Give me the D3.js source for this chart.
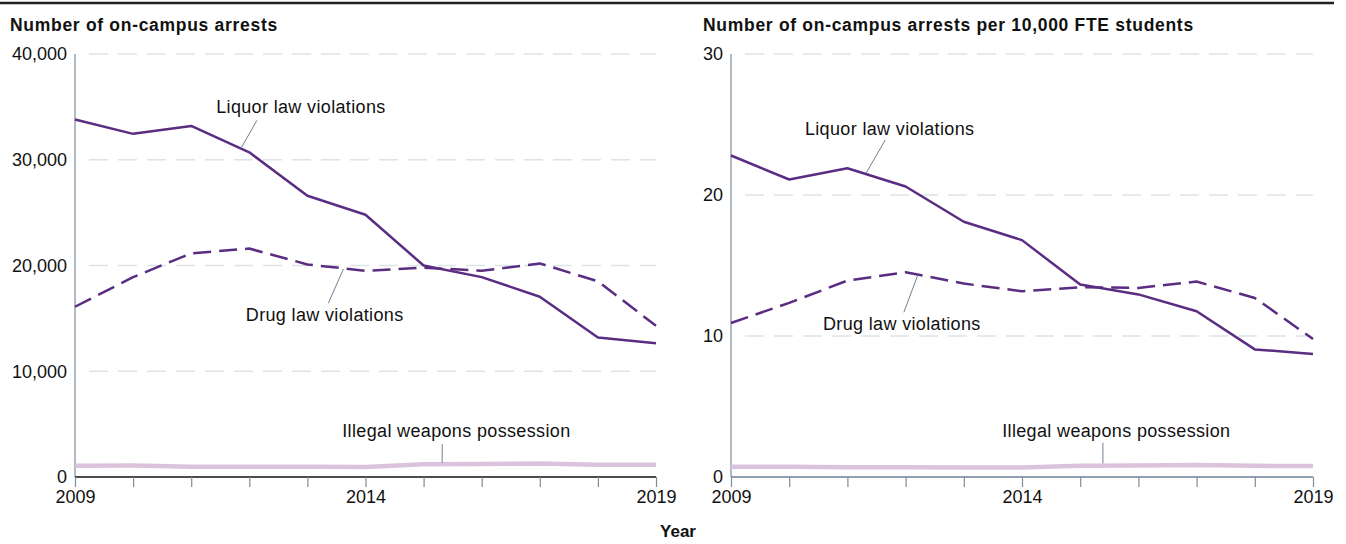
<!DOCTYPE html>
<meta charset="utf-8">
<style>
    body { margin: 0; background: #fff; }
    svg { display: block; font-family: "Liberation Sans", Arial, sans-serif; }
    .title { font-size: 17.5px; font-weight: bold; fill: #111; letter-spacing: 0.7px; }
    .tick-label { font-size: 18px; fill: #111; }
    .grid { stroke: #dde3e7; stroke-width: 1.5px; stroke-dasharray: 19,10; }
    .note { font-size: 18px; fill: #111; letter-spacing: 0.35px; }
    .leader { stroke: #6d8193; stroke-width: 1px; fill: none; }
    .series { fill: none; stroke-linejoin: round; }
</style>
<svg></svg>
<script src="https://cdn.jsdelivr.net/npm/d3@7"></script>
<script>

    var width = 1346,
        height = 544;

    // data
    var years = [2009, 2010, 2011, 2012, 2013, 2014, 2015, 2016, 2017, 2018, 2019];
    var yearTicks = [2009, 2014, 2019];

    var liquorCount = [33800, 32450, 33200, 30700, 26600, 24800, 20000, 18900, 17050, 13200, 12650];
    var drugCount = [16100, 18900, 21150, 21600, 20100, 19500, 19800, 19500, 20200, 18500, 14300];
    var weaponsCount = [1070, 1080, 970, 960, 960, 950, 1200, 1230, 1280, 1170, 1150];
    var countTicks = [0, 10000, 20000, 30000, 40000];

    var liquorRate = [22.8, 21.1, 21.9, 20.6, 18.1, 16.8, 13.65, 12.95, 11.75, 9.05, 8.72];
    var drugRate = [10.92, 12.35, 13.93, 14.52, 13.72, 13.17, 13.46, 13.41, 13.86, 12.7, 9.79];
    var weaponsRate = [0.73, 0.72, 0.69, 0.69, 0.68, 0.67, 0.79, 0.81, 0.85, 0.79, 0.78];
    var rateTicks = [0, 10, 20, 30];

    var seriesNames = ["Liquor law violations", "Drug law violations", "Illegal weapons possession"];

    var svg = d3.select("svg")
        .attr("width", width)
        .attr("height", height);

    svg.append("line")
        .attr("x1", 0).attr("x2", 1334)
        .attr("y1", 3).attr("y2", 3)
        .attr("stroke", "#231f20")
        .attr("stroke-width", 2.5);

    var panels = [
        {
            title: "Number of on-campus arrests",
            titleX: 10, left: 75, right: 656,
            max: 40000, ticks: countTicks, fmt: d3.format(","),
            xAxisColor: "#111",
            values: [liquorCount, drugCount, weaponsCount],
            // annotation anchors in data units: [textYear, textValue, leaderYear1, leaderValue1, leaderYear2, leaderValue2]
            notes: [
                [2011.43, 34420, 2012.13, 33720, 2011.87, 31200],
                [2011.94, 14750, 2013.62, 19670, 2013.36, 16430],
                [2013.6, 3780, 2015.32, 3120, 2015.32, 1350]
            ]
        },
        {
            title: "Number of on-campus arrests per 10,000 FTE students",
            titleX: 703, left: 731, right: 1313,
            max: 30, ticks: rateTicks, fmt: d3.format("d"),
            xAxisColor: "#6d8193",
            values: [liquorRate, drugRate, weaponsRate],
            notes: [
                [2010.27, 24.26, 2011.65, 23.9, 2011.32, 21.54],
                [2010.58, 10.43, 2012.21, 14.33, 2011.97, 11.68],
                [2013.66, 2.84, 2015.39, 2.43, 2015.39, 0.97]
            ]
        }
    ];

    var plotTop = 54, plotBottom = 477;

    var styles = [
        {stroke: "#5a2d82", width: 2.5, dash: null},
        {stroke: "#5a2d82", width: 2.5, dash: "18,8"},
        {stroke: "#dbc3de", width: 4.5, dash: null}
    ];

    panels.forEach(function(p) {
        var x = d3.scaleLinear().domain([2009, 2019]).range([p.left, p.right]);
        var y = d3.scaleLinear().domain([0, p.max]).range([plotBottom, plotTop]);
        var g = svg.append("g");

        g.append("text")
            .attr("class", "title")
            .attr("x", p.titleX)
            .attr("y", 31)
            .text(p.title);

        // gridlines
        g.selectAll(".grid")
            .data(p.ticks.filter(function(d) { return d > 0; }))
            .enter().append("line")
            .attr("class", "grid")
            .attr("x1", p.left + 14).attr("x2", p.right)
            .attr("y1", function(d) { return y(d); })
            .attr("y2", function(d) { return y(d); });

        // y tick labels
        g.selectAll(".ylab")
            .data(p.ticks)
            .enter().append("text")
            .attr("class", "tick-label")
            .attr("x", p.left - 8)
            .attr("y", function(d) { return y(d); })
            .attr("dy", "0.35em")
            .attr("text-anchor", "end")
            .text(p.fmt);

        // y axis line
        g.append("line")
            .attr("x1", p.left).attr("x2", p.left)
            .attr("y1", plotTop).attr("y2", plotBottom)
            .attr("stroke", "#7b8c9a")
            .attr("stroke-width", 1.2);

        // x axis
        var xAxis = d3.axisBottom(x)
            .tickValues(years)
            .tickSize(10)
            .tickFormat(function(d) { return yearTicks.indexOf(d) >= 0 ? d : ""; });

        var ax = g.append("g")
            .attr("transform", "translate(0," + plotBottom + ")")
            .call(xAxis);
        ax.select(".domain")
            .attr("d", "M" + p.left + ",0H" + p.right)
            .attr("stroke", p.xAxisColor)
            .attr("stroke-width", 1.5);
        ax.selectAll(".tick line").attr("stroke", "#7b8c9a").attr("stroke-width", 1.2);
        ax.selectAll(".tick text")
            .attr("class", "tick-label")
            .attr("y", 13)
            .attr("dy", "0.71em")
            .attr("font-family", null)
            .attr("font-size", null)
            .attr("fill", "#111");

        // series, drawn weapons first
        var line = d3.line()
            .x(function(d, i) { return x(years[i]); })
            .y(function(d) { return y(d); });

        [2, 1, 0].forEach(function(k) {
            g.append("path")
                .datum(p.values[k])
                .attr("class", "series")
                .attr("stroke", styles[k].stroke)
                .attr("stroke-width", styles[k].width)
                .attr("stroke-dasharray", styles[k].dash)
                .attr("d", line);
        });

        // annotations
        p.notes.forEach(function(n, k) {
            g.append("line")
                .attr("class", "leader")
                .attr("x1", x(n[2])).attr("y1", y(n[3]))
                .attr("x2", x(n[4])).attr("y2", y(n[5]));
            g.append("text")
                .attr("class", "note")
                .attr("x", x(n[0]))
                .attr("y", y(n[1]))
                .text(seriesNames[k]);
        });
    });

    svg.append("text")
        .attr("x", 678)
        .attr("y", 537)
        .attr("text-anchor", "middle")
        .attr("font-size", 17)
        .attr("font-weight", "bold")
        .attr("fill", "#111")
        .text("Year");

</script>
